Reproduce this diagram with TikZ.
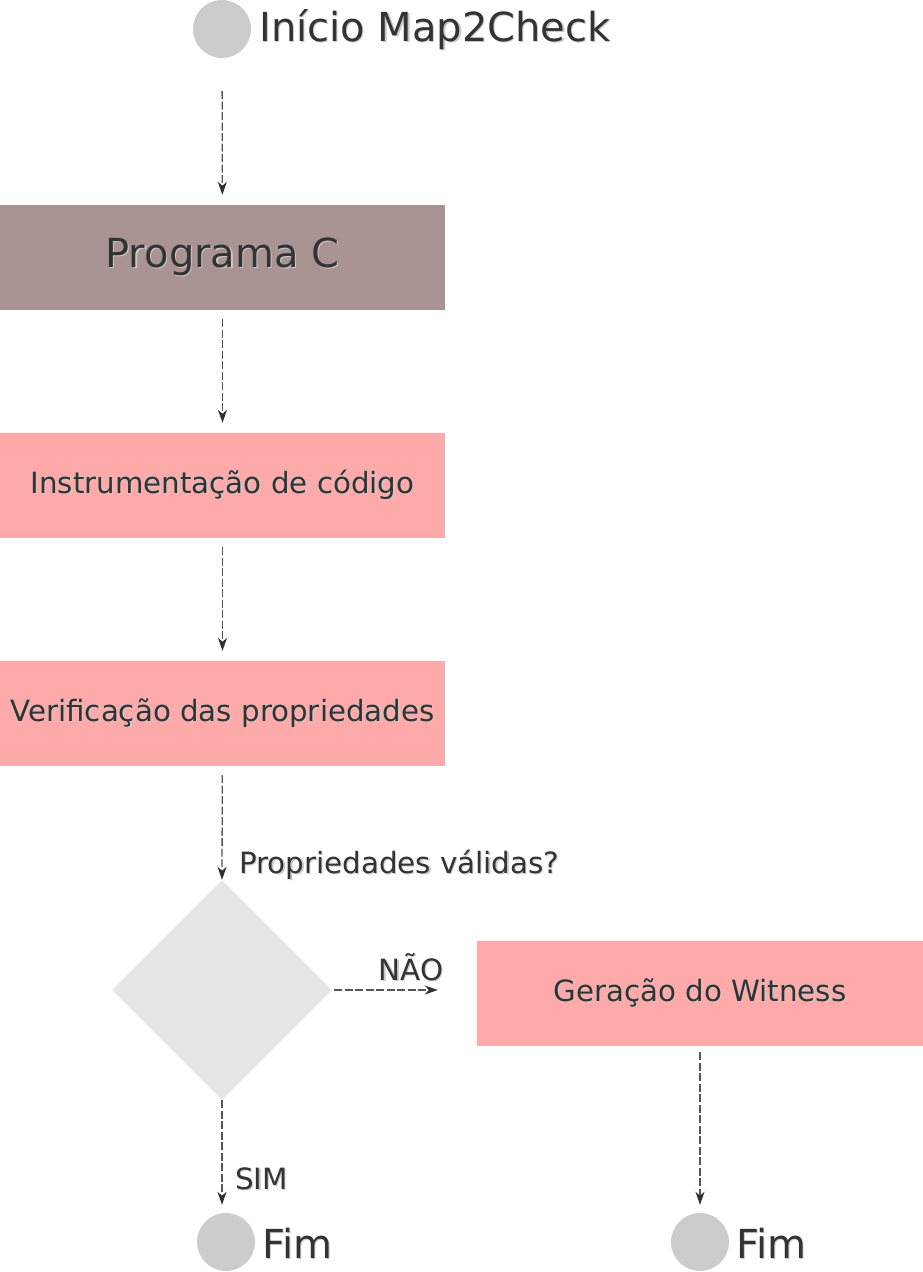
\documentclass[tikz,border=0pt]{standalone}
\usepackage{fontspec}
\setmainfont{DejaVu Sans}
\usetikzlibrary{shapes.geometric,arrows.meta}
\definecolor{txtc}{HTML}{333333}
\definecolor{shc}{HTML}{C8C8C8}
\definecolor{progc}{HTML}{AA9393}
\definecolor{pinkc}{HTML}{FFAAAA}
\definecolor{diac}{HTML}{E6E6E6}
\definecolor{circc}{HTML}{CCCCCC}
\definecolor{linec}{HTML}{555555}
\definecolor{tipc}{HTML}{303030}
\newcommand\shtxt[1]{\makebox[0pt][l]{\raisebox{-1.3pt}{\hspace{1.3pt}\color{shc}#1}}#1}
\newcommand\bigfs{\fontsize{40}{48}\selectfont}
\newcommand\medfs{\fontsize{29.3}{35}\selectfont}
\begin{document}
\begin{tikzpicture}[x=1pt,y=-1pt,
  boxnode/.style={rectangle, draw=none, minimum width=445pt, minimum height=105pt, inner sep=0pt, text=txtc},
  endcirc/.style={circle, fill=circc, draw=none, minimum size=58pt, inner sep=0pt},
  lbl/.style={inner sep=0pt, text=txtc, font=\medfs},
  biglbl/.style={inner sep=0pt, text=txtc, font=\bigfs},
  flow/.style={draw=linec, line width=1.3pt, dash pattern=on 8pt off 2.5pt,
    -{Stealth[length=13pt, width=9pt, inset=4pt, color=tipc]}},
]
\useasboundingbox (0,0) rectangle (923,1272);
% nodes
\node[endcirc] (start) at (222,29) {};
\node[biglbl, anchor=west] (startlbl) at (259,30) {\shtxt{Início Map2Check}};
\node[boxnode, fill=progc, font=\bigfs] (prog) at (222.5,257.5) {\raisebox{-2pt}{\shtxt{Programa C}}};
\node[boxnode, fill=pinkc, font=\medfs] (instr) at (222.5,485.5) {\raisebox{-1pt}{\shtxt{Instrumentação de código}}};
\node[boxnode, fill=pinkc, font=\medfs] (verif) at (222.5,713.5) {\raisebox{-1pt}{\shtxt{Verificação das propriedades}}};
\node[diamond, fill=diac, draw=none, minimum width=220pt, minimum height=220pt, inner sep=0pt] (dia) at (222,990) {};
\node[lbl, anchor=west] (qlbl) at (239,865) {\shtxt{Propriedades válidas?}};
\node[boxnode, fill=pinkc, font=\medfs, minimum width=446pt] (ger) at (700,993.5) {\raisebox{-1pt}{\shtxt{Geração do Witness}}};
\node[lbl] (naolbl) at (411,968) {\shtxt{NÃO}};
\node[lbl, anchor=west] (simlbl) at (235,1179) {\shtxt{SIM}};
\node[endcirc] (fim1) at (226,1242) {};
\node[biglbl, anchor=west] (fim1lbl) at (262,1244) {\shtxt{Fim}};
\node[endcirc] (fim2) at (700,1242) {};
\node[biglbl, anchor=west] (fim2lbl) at (736,1244) {\shtxt{Fim}};
% connectors
\draw[flow, shorten <=33pt, shorten >=10pt] (start) -- (prog);
\draw[flow, shorten <=9pt, shorten >=10pt] (prog) -- (instr);
\draw[flow, shorten <=9pt, shorten >=10pt] (instr) -- (verif);
\draw[flow, shorten <=9pt] (verif) -- (dia.north);
\draw[flow, shorten <=2pt, shorten >=39pt] (dia.east) -- (ger.west |- dia.east);
\draw[flow, shorten >=8pt] (dia.south) -- (dia.south |- fim1.north);
\draw[flow, shorten <=6pt, shorten >=8pt] (ger) -- (fim2);
\end{tikzpicture}
\end{document}
